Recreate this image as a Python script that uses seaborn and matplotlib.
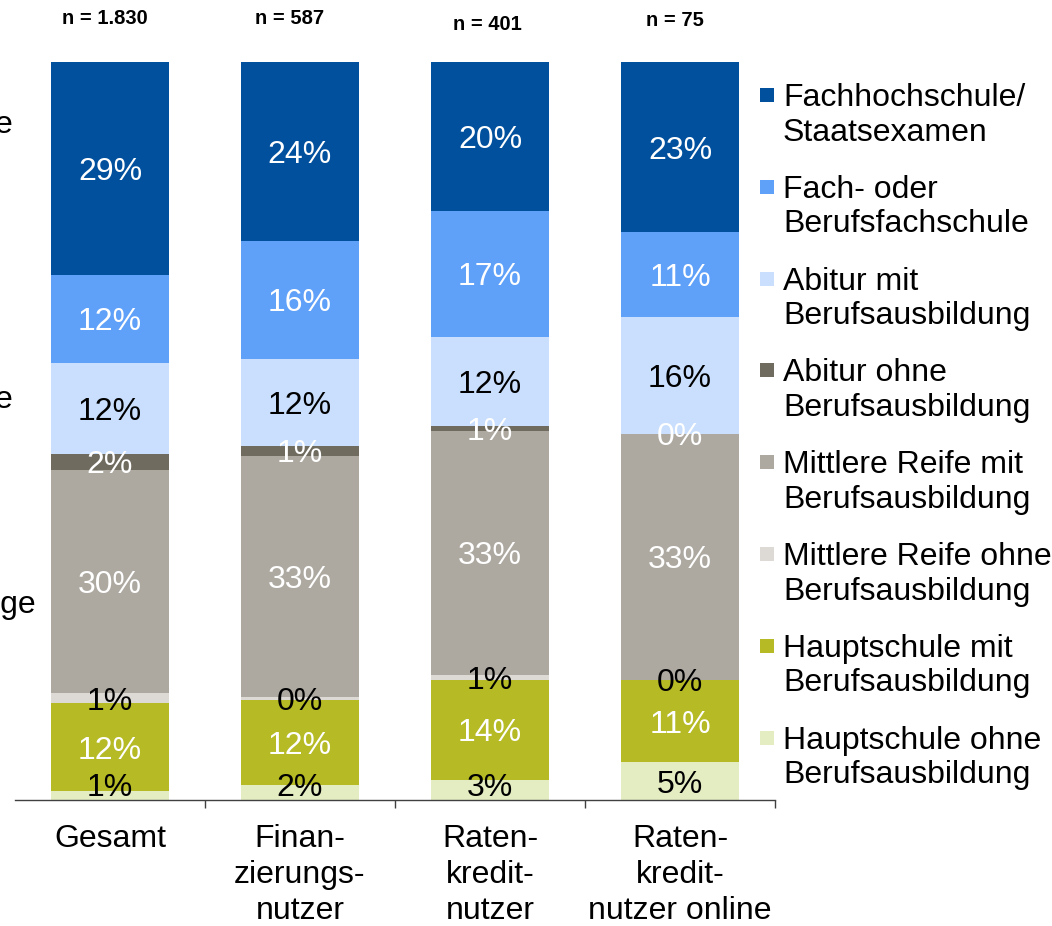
import numpy as np
import pandas as pd
import matplotlib
matplotlib.use("Agg")
import matplotlib.pyplot as plt
import seaborn as sns
from matplotlib.patches import Rectangle
from matplotlib.ticker import FixedLocator

# ---------------- data ----------------
categories = ["Gesamt", "Finan-\nzierungs-\nnutzer", "Raten-\nkredit-\nnutzer",
              "Raten-\nkredit-\nnutzer online"]
sample_sizes = ["n = 1.830", "n = 587", "n = 401", "n = 75"]

# series (percent), listed from bottom segment to top segment
hauptschule_ohne = [1.2, 2.0, 2.7, 5.1]
hauptschule_mit = [11.9, 11.6, 13.6, 11.2]
mittlere_reife_ohne = [1.4, 0.4, 0.7, 0.0]
mittlere_reife_mit = [30.2, 32.6, 33.0, 33.3]
abitur_ohne = [2.2, 1.4, 0.7, 0.0]
abitur_mit = [12.3, 11.8, 12.1, 15.9]
fach_berufsfachschule = [12.0, 16.0, 17.0, 11.4]
fachhochschule = [28.8, 24.2, 20.2, 23.1]

series_values = [hauptschule_ohne, hauptschule_mit, mittlere_reife_ohne, mittlere_reife_mit,
                 abitur_ohne, abitur_mit, fach_berufsfachschule, fachhochschule]
series_labels = ["Hauptschule ohne\nBerufsausbildung", "Hauptschule mit\nBerufsausbildung",
                 "Mittlere Reife ohne\nBerufsausbildung", "Mittlere Reife mit\nBerufsausbildung",
                 "Abitur ohne\nBerufsausbildung", "Abitur mit\nBerufsausbildung",
                 "Fach- oder\nBerufsfachschule", "Fachhochschule/\nStaatsexamen"]
series_colors = ["#E4EDC2", "#B5BA25", "#DDDAD5", "#ADA9A1",
                 "#6F6B5F", "#C9DFFD", "#5FA0F9", "#00509E"]
label_colors = ["black", "white", "black", "white", "white", "black", "white", "white"]

# ---------------- style ----------------
sns.set_style("white")
plt.rcParams["font.family"] = ["Liberation Sans", "DejaVu Sans"]

W, H = 1052, 926
fig = plt.figure(figsize=(W / 100, H / 100), dpi=100)
ax = fig.add_axes([15 / W, 126 / H, 760 / W, 738 / H])

cum = np.cumsum(np.array(series_values), axis=0)  # cumulative from bottom
# draw from top layer down so lower layers overlay
for k in range(len(series_values) - 1, -1, -1):
    df = pd.DataFrame({"cat": categories, "val": cum[k]})
    sns.barplot(data=df, x="cat", y="val", order=categories, color=series_colors[k],
                saturation=1, width=0.62, errorbar=None, linewidth=0, ax=ax)

# segment labels
bottoms = np.vstack([np.zeros(len(categories)), cum[:-1]])
for k, vals in enumerate(series_values):
    for i, v in enumerate(vals):
        mid = bottoms[k][i] + v / 2
        y = max(mid, 2.1)
        ax.text(i, y, f"{v:.0f}%", ha="center", va="center_baseline", fontsize=23,
                color=label_colors[k])

ax.set_xlim(-0.5, 3.5)
ax.set_ylim(0, 100)
ax.set_yticks([])
ax.set_xlabel("")
ax.set_ylabel("")
for s in ["left", "top", "right"]:
    ax.spines[s].set_visible(False)
ax.spines["bottom"].set_color("#404040")
ax.spines["bottom"].set_linewidth(1.0)
ax.tick_params(axis="x", which="major", length=0, pad=17.5, labelsize=23, colors="black")
ax.xaxis.set_minor_locator(FixedLocator([0.5, 1.5, 2.5, 3.5]))
ax.tick_params(axis="x", which="minor", bottom=True, length=6, width=1,
               color="#404040", direction="out")
for lbl in ax.get_xticklabels():
    lbl.set_linespacing(1.25)

# sample sizes above bars
n_pos = [(105, 18), (290, 18), (487, 24), (675, 20)]
for txt, (px, py) in zip(sample_sizes, n_pos):
    fig.text(px / W, 1 - py / H, txt, ha="center", va="center", fontsize=14.5,
             fontweight="bold", color="black")

# legend (top to bottom)
leg_y0, leg_step = 95, 91.8
for j, k in enumerate(range(len(series_values) - 1, -1, -1)):
    yc = leg_y0 + j * leg_step
    fig.patches.append(Rectangle(((760) / W, 1 - (yc + 7) / H), 14 / W, 14 / H,
                                 transform=fig.transFigure, facecolor=series_colors[k],
                                 edgecolor="none"))
    fig.text(783 / W, 1 - (yc - 12) / H, series_labels[k], ha="left", va="top",
             fontsize=23, color="black", linespacing=1.2)

# clipped left-side fragments (cut off at the figure edge, as in the reference)
fig.text(12 / W, 1 - 125 / H, "e", ha="right", va="center", fontsize=23, color="black")
fig.text(12 / W, 1 - 400 / H, "e", ha="right", va="center", fontsize=23, color="black")
fig.text(37 / W, 1 - 605 / H, "ige", ha="right", va="center", fontsize=23, color="black")

fig.savefig("out.png", dpi=100)
